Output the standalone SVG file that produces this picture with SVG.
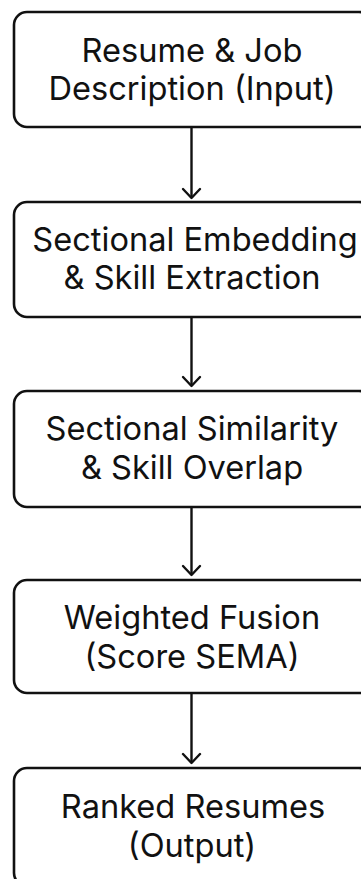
<svg xmlns="http://www.w3.org/2000/svg" width="361" height="879" viewBox="0 0 361 879">
<defs>
<style>
.box{fill:#fff;stroke:#111;stroke-width:2.6}
.lbl{font-family:Inter,"Liberation Sans",sans-serif;font-size:32.6px;fill:#111;text-anchor:middle}
.edge{stroke:#111;stroke-width:2.4;fill:none}
.head{stroke:#111;stroke-width:2.4;fill:none;stroke-linecap:round;stroke-linejoin:round}
</style>
</defs>
<rect width="361" height="879" fill="#fff"/>
<g id="node-input">
<rect class="box" x="14" y="12" width="358" height="115" rx="13"/>
<text class="lbl" x="192" y="62">Resume &amp; Job</text>
<text class="lbl" x="192" y="100">Description (Input)</text>
</g>
<g id="node-embedding">
<rect class="box" x="14" y="202" width="358" height="115" rx="13"/>
<text class="lbl" x="195" y="251">Sectional Embedding</text>
<text class="lbl" x="192" y="289">&amp; Skill Extraction</text>
</g>
<g id="node-similarity">
<rect class="box" x="14" y="391" width="358" height="116" rx="13"/>
<text class="lbl" x="192" y="440">Sectional Similarity</text>
<text class="lbl" x="192" y="479">&amp; Skill Overlap</text>
</g>
<g id="node-fusion">
<rect class="box" x="14" y="580" width="358" height="113" rx="13"/>
<text class="lbl" x="192" y="629">Weighted Fusion</text>
<text class="lbl" x="192" y="668">(Score SEMA)</text>
</g>
<g id="node-output">
<rect class="box" x="14" y="768" width="358" height="118" rx="13"/>
<text class="lbl" x="193" y="818">Ranked Resumes</text>
<text class="lbl" x="192" y="857">(Output)</text>
</g>
<g id="connectors">
<line class="edge" x1="191.5" y1="127" x2="191.5" y2="198"/>
<polyline class="head" points="183,189 191.5,198 200,189"/>
<line class="edge" x1="191.5" y1="317" x2="191.5" y2="386"/>
<polyline class="head" points="183,377 191.5,386 200,377"/>
<line class="edge" x1="191.5" y1="507" x2="191.5" y2="575"/>
<polyline class="head" points="183,566 191.5,575 200,566"/>
<line class="edge" x1="191.5" y1="693" x2="191.5" y2="763"/>
<polyline class="head" points="183,754 191.5,763 200,754"/>
</g>
</svg>
